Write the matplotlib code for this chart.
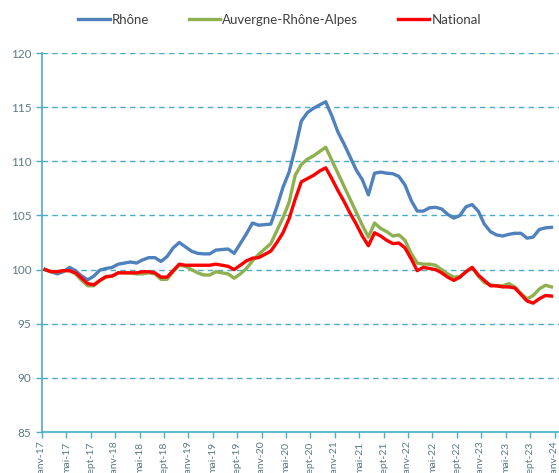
import matplotlib.pyplot as plt
import numpy as np

# Monthly index, janv-17 .. déc-23 (base 100 = janv-17)
rhone = [
    100.0, 99.8, 99.6, 99.8, 100.2, 99.9, 99.4, 99.05, 99.4, 99.95, 100.1, 100.2,
    100.5, 100.6, 100.7, 100.6, 100.9, 101.1, 101.1, 100.75, 101.2, 102.0, 102.5, 102.1,
    101.7, 101.5, 101.45, 101.45, 101.8, 101.85, 101.9, 101.5, 102.4, 103.3, 104.3, 104.1,
    104.15, 104.2, 105.8, 107.6, 109.0, 111.2, 113.7, 114.5, 114.9, 115.2, 115.5, 114.2,
    112.7, 111.6, 110.4, 109.2, 108.3, 106.9, 108.9, 109.0, 108.9, 108.85, 108.6, 107.8,
    106.4, 105.4, 105.4, 105.7, 105.75, 105.6, 105.1, 104.75, 105.0, 105.8, 106.0, 105.4,
    104.2, 103.5, 103.2, 103.1, 103.25, 103.35, 103.35, 102.9, 103.0, 103.7, 103.85, 103.9,
]
auvergne = [
    100.0, 99.8, 99.8, 99.9, 99.9, 99.6, 99.0, 98.5, 98.5, 99.0, 99.3, 99.4,
    99.7, 99.7, 99.7, 99.6, 99.6, 99.7, 99.6, 99.1, 99.1, 99.8, 100.4, 100.3,
    100.0, 99.7, 99.5, 99.5, 99.8, 99.7, 99.6, 99.2, 99.6, 100.1, 100.8, 101.4,
    101.9, 102.4, 103.6, 104.8, 106.2, 108.7, 109.7, 110.2, 110.5, 110.9, 111.3, 110.1,
    108.9, 107.7, 106.5, 105.3, 104.1, 103.0, 104.3, 103.8, 103.5, 103.1, 103.2, 102.7,
    101.5, 100.6, 100.5, 100.5, 100.4, 100.0, 99.6, 99.3, 99.35, 99.8, 100.2, 99.4,
    98.8, 98.6, 98.5, 98.5, 98.7, 98.4, 97.8, 97.3, 97.6, 98.2, 98.55, 98.4,
]
national = [
    100.0, 99.8, 99.8, 99.9, 99.9, 99.7, 99.2, 98.7, 98.6, 99.0, 99.35, 99.4,
    99.7, 99.7, 99.7, 99.7, 99.8, 99.8, 99.7, 99.3, 99.3, 99.9, 100.5, 100.4,
    100.4, 100.4, 100.4, 100.4, 100.5, 100.4, 100.3, 100.0, 100.4, 100.8, 101.05, 101.1,
    101.4, 101.7, 102.5, 103.4, 104.7, 106.5, 108.1, 108.4, 108.7, 109.1, 109.4, 108.4,
    107.3, 106.3, 105.2, 104.2, 103.1, 102.2, 103.4, 103.1, 102.7, 102.4, 102.45, 102.0,
    101.0, 99.9, 100.2, 100.1, 100.0, 99.7, 99.3, 99.0, 99.3, 99.8, 100.2, 99.5,
    99.0, 98.5, 98.5, 98.4, 98.4, 98.3, 97.7, 97.1, 96.9, 97.3, 97.6, 97.55,
]
tick_months = ["janv", "mai", "sept"]
years = list(range(17, 25))
tick_labels = [f"{m}-{y}" for y in years for m in tick_months][:22]

teal = "#4bacc6"
label_col = "#5b7b82"

plt.rcParams["font.family"] = ["Lato", "DejaVu Sans"]

fig = plt.figure(figsize=(5.59, 4.73), dpi=100)
ax = fig.add_axes([42 / 559, 41 / 473, 518 / 559, 379 / 473])

x = np.arange(len(rhone))
ax.plot(x, rhone, color="#4f81bd", lw=2.4, label="Rhône", solid_joinstyle="round")
ax.plot(x, auvergne, color="#8eb04f", lw=2.4, label="Auvergne-Rhône-Alpes", solid_joinstyle="round")
ax.plot(x, national, color="#ff0000", lw=2.4, label="National", solid_joinstyle="round")

ax.set_xlim(-0.5, 84.4)
ax.set_ylim(85, 120)
ax.set_yticks(range(85, 121, 5))
ax.set_xticks(np.arange(len(tick_labels)) * 4 - 0.5)
ax.set_xticklabels(tick_labels, rotation=90, fontsize=7.5, color=label_col)
ax.tick_params(axis="y", labelsize=8.5, labelcolor=label_col, color=teal, length=4, width=1)
ax.tick_params(axis="x", color=teal, length=4, width=1, pad=3)

ax.grid(axis="y", color=teal, linestyle=(0, (4, 3)), linewidth=1)
ax.set_axisbelow(True)
for s in ["top", "right"]:
    ax.spines[s].set_visible(False)
for s in ["left", "bottom"]:
    ax.spines[s].set_color(teal)
    ax.spines[s].set_linewidth(1.2)

fig.legend(loc="center", bbox_to_anchor=(0.5, 1 - 20 / 473), ncol=3, frameon=False,
           fontsize=9.5, handlelength=2.4, handletextpad=0.15, columnspacing=3.0,
           labelcolor="#404040")

fig.savefig("out.png", dpi=100)
